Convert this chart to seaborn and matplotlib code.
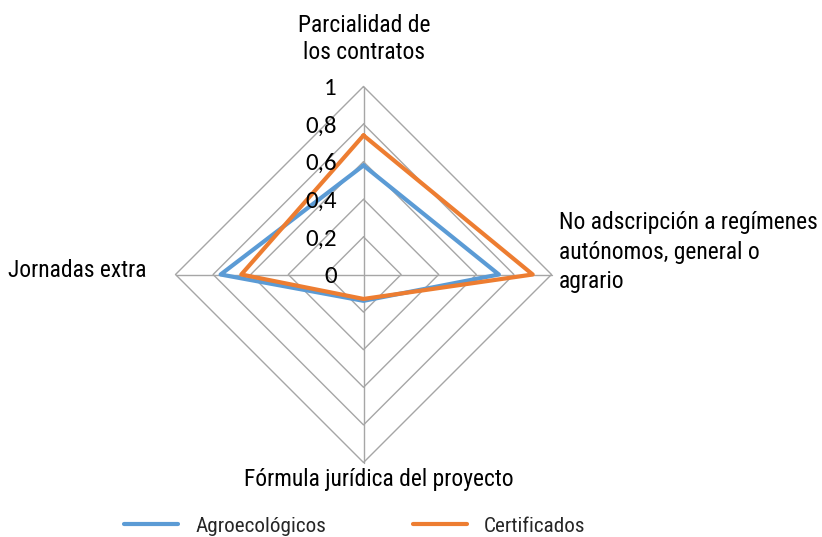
import numpy as np
import pandas as pd
import matplotlib
matplotlib.use("Agg")
import matplotlib.pyplot as plt
import matplotlib.transforms as mtrans
import seaborn as sns

# ---- data ----
categories = ["Parcialidad de los contratos",
              "No adscripción a regímenes autónomos, general o agrario",
              "Fórmula jurídica del proyecto",
              "Jornadas extra"]
series_names = ["Agroecológicos", "Certificados"]
agroecologicos = [0.58, 0.72, 0.14, 0.76]
certificados = [0.74, 0.90, 0.13, 0.65]
r_ticks = [0, 0.2, 0.4, 0.6, 0.8, 1.0]
r_tick_labels = ["0", "0,2", "0,4", "0,6", "0,8", "1"]

sns.set_theme(style="white")
plt.rcParams['font.family'] = ['Roboto Condensed', 'DejaVu Sans']

W, H = 822, 537
fig = plt.figure(figsize=(W / 100, H / 100), dpi=100)
fig.patch.set_facecolor("white")
cx, cy, R = 363.5, 274.5, 188
ax = fig.add_axes([(cx - R) / W, (H - cy - R) / H, 2 * R / W, 2 * R / H], projection='polar')
ax.set_theta_zero_location('N')
ax.set_theta_direction(-1)

n = len(categories)
theta = np.arange(n) * 2 * np.pi / n
theta_closed = np.append(theta, 2 * np.pi)

rows = []
for name, vals in zip(series_names, [agroecologicos, certificados]):
    for t, v in zip(theta_closed, list(vals) + [vals[0]]):
        rows.append(dict(theta=t, value=v, serie=name))
df = pd.DataFrame(rows)

grid_color = '#a6a6a6'
for r in r_ticks[1:]:
    ax.plot(theta_closed, [r] * (n + 1), color=grid_color, lw=1.0, zorder=1, clip_on=False)
for t in theta:
    ax.plot([t, t], [0, 1], color=grid_color, lw=1.0, zorder=1, clip_on=False)

palette = {"Agroecológicos": "#5b9bd5", "Certificados": "#ed7d31"}
sns.lineplot(data=df, x='theta', y='value', hue='serie', palette=palette,
             sort=False, estimator=None, lw=3, ax=ax, legend=True, zorder=3)
for ln in ax.get_lines()[-2:]:
    ln.set_clip_on(False)
handles, labels = ax.get_legend_handles_labels()
if ax.get_legend() is not None:
    ax.get_legend().remove()

ax.set_ylim(0, 1)
ax.grid(False)
ax.spines['polar'].set_visible(False)
ax.set_xticks([])
ax.set_yticks([])
ax.patch.set_visible(False)
ax.set_xlabel("")
ax.set_ylabel("")

# radial labels
off = mtrans.ScaledTranslation(-0.27, -0.085, fig.dpi_scale_trans)
for r, lab in zip(r_ticks, r_tick_labels):
    ax.text(0, r, lab, ha='right', va='baseline', fontsize=18,
            family=['Carlito', 'DejaVu Sans'], color='black',
            transform=ax.transData + off, zorder=5)

# category labels
lab_fs = 16.9
def ftxt(x, y, s, ha):
    fig.text(x / W, 1 - y / H, s, ha=ha, va='baseline', fontsize=lab_fs, color='black')

ftxt(364, 32, "Parcialidad de", 'center')
ftxt(364, 59, "los contratos", 'center')
ftxt(559, 229, "No adscripción a regímenes", 'left')
ftxt(559, 259, "autónomos, general o", 'left')
ftxt(559, 288, "agrario", 'left')
ftxt(146, 277, "Jornadas extra", 'right')
ftxt(378.5, 486, "Fórmula jurídica del proyecto", 'center')

# legend
leg_fs = 15.2
fpx = leg_fs * 100 / 72
for h in handles:
    h.set_linewidth(3)
fig.legend(handles, labels, loc='center left', bbox_to_anchor=(124 / W, 1 - 526 / H),
           ncol=2, frameon=False, fontsize=leg_fs, handlelength=54 / fpx,
           handletextpad=17 / fpx, columnspacing=87 / fpx, borderpad=0, borderaxespad=0)

fig.savefig("out.png", dpi=100)
